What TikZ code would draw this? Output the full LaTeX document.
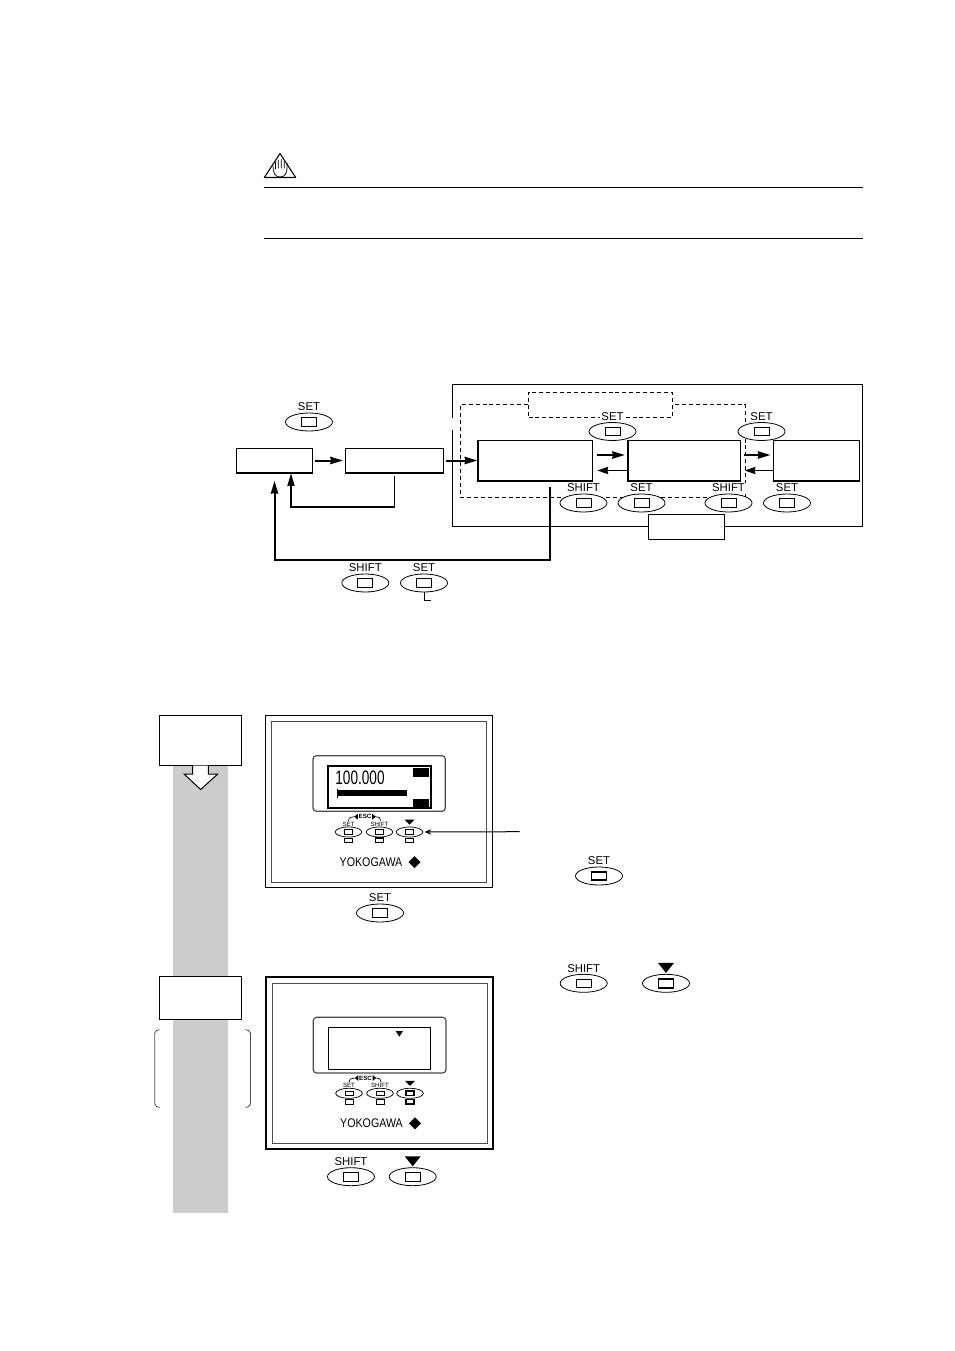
\documentclass[tikz,border=0pt]{standalone}
\usepackage{fontspec}
\setmainfont{Liberation Sans}
\usetikzlibrary{arrows,arrows.meta,shapes.geometric}
\tikzset{
  flowbox/.style = {draw=black, fill=white, inner sep=0pt, line width=0.75pt},
  keyoval/.style = {draw=black, fill=white, ellipse, inner sep=0pt, line width=0.6pt,
    minimum width=35.25pt, minimum height=13.5pt},
  keyrect/.style = {draw=black, fill=white, inner sep=0pt, line width=0.6pt,
    minimum width=11.25pt, minimum height=6.5pt},
  keyheavy/.style = {keyrect, line width=1.4pt},
  keylabel/.style = {inner sep=0.8pt, font=\fontsize{8.5}{9}\selectfont, fill=white},
  minioval/.style = {draw=black, fill=white, ellipse, inner sep=0pt, line width=0.55pt,
    minimum width=20pt, minimum height=7.5pt},
  minirect/.style = {draw=black, fill=white, inner sep=0pt, line width=0.55pt,
    minimum width=6.2pt, minimum height=3.4pt},
  miniheavy/.style = {minirect, line width=1pt},
  minilabel/.style = {inner sep=0pt, font=\fontsize{4.6}{5}\selectfont},
  flow/.style = {-{Stealth[length=9.5pt, width=5.5pt, inset=0.6pt]}, line width=1.5pt},
  flowthin/.style = {-{Stealth[length=8pt, width=5.5pt, inset=0.6pt]}, line width=0.8pt},
  dashline/.style = {dashed, dash pattern=on 3pt off 2.2pt, line width=0.6pt},
  panelframe/.style = {draw=black!70, line width=0.75pt}
}
% key with label above
\newcommand{\keybtn}[5]{
  \node [keylabel] (#1l) at (#2,#3-15) {#4};
  \node [keyoval] (#1) at (#2,#3) {};
  \node [#5] (#1r) at (#2,#3) {};
}
% key with triangle above
\newcommand{\keydown}[4]{
  \node [keyoval] (#1) at (#2,#3) {};
  \node [#4] (#1r) at (#2,#3) {};
  \fill (#1.north) ++(-8,-11) -- ++(16,0) -- ++(-8,10) -- cycle;
}
% three small keys of a panel
\newcommand{\panelkeys}[5]{
  \begin{scope}[shift={#2}]
    \node [minilabel] (#1s) at (348.5,-8) {SET};
    \node [minilabel] (#1h) at (379.5,-8) {SHIFT};
    \node [minilabel, font=\fontsize{4.6}{5}\bfseries\selectfont] (#1e) at (365,-15.3) {ESC};
    \coordinate (#1el) at ([xshift=-3.2pt]#1e.west);
    \coordinate (#1er) at ([xshift=3.2pt]#1e.east);
    \fill (#1el) -- ++(3.6,-2.8) -- ++(0,5.6) -- cycle;
    \fill (#1er) -- ++(-3.6,-2.8) -- ++(0,5.6) -- cycle;
    \draw [line width=0.5pt] (348.5,-11) .. controls (349,-14.5) and (351,-15.3) .. (#1el);
    \draw [line width=0.5pt] (#1er) .. controls (379,-15.3) and (380,-14.5) .. (380.5,-11);
    \fill (404.5,-12.5) -- ++(10,0) -- ++(-5,5) -- cycle;
    \node [minioval] (#1a) at (348.5,0) {};
    \node [minioval] (#1b) at (379.5,0) {};
    \node [minioval] (#1c) at (409.5,0) {};
    \node [#3] at (348.5,0) {};
    \node [#4] at (379.5,0) {};
    \node [#5] at (409.5,0) {};
    \node [#3] at (348.5,8.3) {};
    \node [#4] at (379.5,8.3) {};
    \node [#5] at (409.5,8.3) {};
    \node [inner sep=0pt, font=\fontsize{9.4}{10}\selectfont] (#1y) at (371,30) {\scalebox{0.85}[1]{YOKOGAWA}};
    \fill (414.5,24) -- ++(6,6) -- ++(-6,6) -- ++(-6,-6) -- cycle;
  \end{scope}
}

\begin{document}
\begin{tikzpicture}[x=0.75pt, y=-0.75pt]
  \useasboundingbox (0,0) rectangle (954,1351);

  % note head
  \draw [line width=0.8pt, line join=round] (280,153.5) -- (295.7,177.5) -- (264.3,177.5) -- cycle;
  \draw [line width=0.55pt, line cap=round] (273,166) .. controls (273,173) and (275,177) .. (280,177)
     .. controls (285,177) and (287,173) .. (287,168) -- (287,163)
     (284.3,168) -- (284.3,160.5) (281.3,168) -- (281.3,159.5) (278.3,168) -- (278.3,160) (275.6,169) -- (275.6,162);
  \draw [line width=0.95pt] (264,187.5) -- (863,187.5);
  \draw [line width=0.95pt] (264,238.5) -- (863,238.5);

  % frame round the setting screens
  \draw [line width=0.75pt] (452.5,418) -- (452.5,384.5) -- (862.5,384.5) -- (862.5,526) -- (452.5,526) -- (452.5,430);
  \node [draw=black, dashline, inner sep=0pt, minimum width=108pt, minimum height=18.6pt] (dashTitle) at (600.5,404.7) {};
  \draw [dashline] (dashTitle.west) -- (460.5,404.7) -- (460.5,497) -- (745.3,497) -- (745.3,404.7) -- (dashTitle.east);
  \node [flowbox, minimum width=57pt, minimum height=18.7pt] (modeBox) at (686,527) {};

  % screens
  \node [flowbox, minimum width=56.6pt, minimum height=18.6pt] (opScreen) at (274.3,460.5) {};
  \node [flowbox, minimum width=73.3pt, minimum height=18.6pt] (menuScreen) at (394.3,460.5) {};
  \node [flowbox, minimum width=86.2pt, minimum height=29.5pt] (firstScreen) at (535.5,460.5) {};
  \node [flowbox, minimum width=84.7pt, minimum height=29.5pt] (midScreen) at (684.5,460.5) {};
  \node [flowbox, minimum width=64.5pt, minimum height=29.5pt] (lastScreen) at (816,460.5) {};
  \draw [line width=1.5pt] (opScreen.south west) -- (opScreen.south east);
  \draw [line width=1.5pt] (menuScreen.south west) -- (menuScreen.south east);
  \draw [line width=1.5pt] (firstScreen.north west) -- (firstScreen.south west) -- (firstScreen.south east);
  \draw [line width=1.5pt] (midScreen.north west) -- (midScreen.south west) -- (midScreen.south east);
  \draw [line width=1.5pt] (lastScreen.south west) -- (lastScreen.south east);

  % keys
  \keybtn{keyTop}{309}{422}{SET}{keyrect}
  \keybtn{keyFirstSet}{612.5}{431.5}{SET}{keyrect}
  \keybtn{keyMidSet}{761.5}{431.5}{SET}{keyrect}
  \keybtn{keyFirstShift}{583.5}{503}{SHIFT}{keyrect}
  \keybtn{keyMidBack}{641.5}{503}{SET}{keyrect}
  \keybtn{keyLastShift}{728.5}{503}{SHIFT}{keyrect}
  \keybtn{keyLastSet}{787}{503}{SET}{keyrect}
  \keybtn{keyRetShift}{365.3}{583}{SHIFT}{keyrect}
  \keybtn{keyRetSet}{424}{583}{SET}{keyrect}

  % connectors
  \coordinate (menuOut) at (394.3,476);
  \coordinate (firstOut) at (550,487);
  \coordinate (tagEnd) at (431,600);
  \draw [flow, shorten <=2pt, shorten >=1.5pt] (opScreen.east) -- (menuScreen.west);
  \draw [flow, shorten <=2pt, shorten >=0.2pt] (menuScreen.east) -- (firstScreen.west);
  \draw [flow, shorten <=3pt, shorten >=2pt] (firstScreen.east |- 0,455) -- (midScreen.west |- 0,455);
  \draw [flowthin, shorten <=0.5pt, shorten >=3pt] (midScreen.west |- 0,470.5) -- (firstScreen.east |- 0,470.5);
  \draw [flow, shorten <=2pt, shorten >=1.5pt] (midScreen.east |- 0,455) -- (lastScreen.west |- 0,455);
  \draw [flowthin, shorten >=2.5pt] (lastScreen.west |- 0,470.5) -- (midScreen.east |- 0,470.5);
  \draw [flow, line width=0.8pt] (menuOut) -- (394.3,507) -- (291,507) -- (opScreen.south -| 291,0);
  \draw [flow] (firstOut) -- (550,559.5) -- (274.5,559.5) -- (274.5,481);
  \draw [line width=0.75pt] (keyRetSet.south) -- (424,600) -- (tagEnd);

  % gray step bar
  \fill [black!20] (173,740) rectangle (228,1213);
  \node [flowbox, minimum width=61.5pt, minimum height=37.5pt] (stepOne) at (200.5,740.7) {};
  \draw [flowbox, line join=miter] (192.7,765.7) -- (192.7,774) -- (184,774) -- (200.7,789.5) -- (217.7,774) -- (208.3,774) -- (208.3,765.7);
  \node [flowbox, minimum width=61.5pt, minimum height=32pt] (stepTwo) at (200.5,998) {};
  \draw [black!70, line width=0.6pt] (159.5,1029.5) -- (156.5,1030.5) -- (154.7,1033) -- (154.7,1104) -- (156.5,1106.5) -- (159.5,1107.5);
  \draw [black!70, line width=0.6pt] (245.5,1029.5) -- (248.5,1030.5) -- (250.5,1033) -- (250.5,1104) -- (248.5,1106.5) -- (245.5,1107.5);

  % first panel
  \node [flowbox, minimum width=170.2pt, minimum height=129.7pt] (panelOne) at (378.8,801.5) {};
  \draw [panelframe] (271.3,721.3) rectangle (486.7,882.3);
  \draw [panelframe, rounded corners=2.5pt, line width=0.9pt] (313,755.7) rectangle (445.3,811.3);
  \draw [line width=1.3pt] (328.3,766) rectangle (430.7,808.3);
  \node [inner sep=0pt, font=\fontsize{14.6}{15}\selectfont] (readOut) at (360,778) {\scalebox{0.7}[1]{100.000}};
  \fill (413.3,768.3) rectangle (429,776.7);
  \fill (413.3,799) rectangle (429,808.3);
  \fill (337.3,790) rectangle (407,796);
  \fill (336.6,788.5) rectangle (338,797.5);
  \panelkeys{pa}{(0,832)}{minirect}{miniheavy}{minirect}
  \coordinate (pointEnd) at (519.5,831.7);
  \draw [-{Stealth[length=5pt, width=4pt]}, line width=0.75pt, shorten >=1pt] (pointEnd) -- (pac.east);
  \keybtn{keyPanelSet}{380}{913}{SET}{keyrect}

  % second panel
  \node [flowbox, minimum width=170.6pt, minimum height=128.5pt, line width=1.6pt] (panelTwo) at (379.5,1063) {};
  \draw [panelframe] (272,983) rectangle (487.3,1143.7);
  \draw [panelframe, rounded corners=2.5pt, line width=0.9pt] (313.3,1017.3) rectangle (446,1073);
  \draw [line width=0.8pt] (328.3,1027.3) rectangle (430.7,1069.7);
  \fill (395.6,1031) -- ++(7.4,0) -- ++(-3.7,5.6) -- cycle;
  \panelkeys{pb}{(0.5,1093.3)}{minirect}{minirect}{miniheavy}
  \keybtn{keyPanelShift}{351}{1176.7}{SHIFT}{keyrect}
  \keydown{keyPanelDown}{412.7}{1176.7}{keyrect}

  % right column keys
  \keybtn{keySideSet}{599}{876}{SET}{keyheavy}
  \keybtn{keySideShift}{583.7}{983.3}{SHIFT}{keyrect}
  \keydown{keySideDown}{666}{983.3}{keyheavy}
\end{tikzpicture}
\end{document}
